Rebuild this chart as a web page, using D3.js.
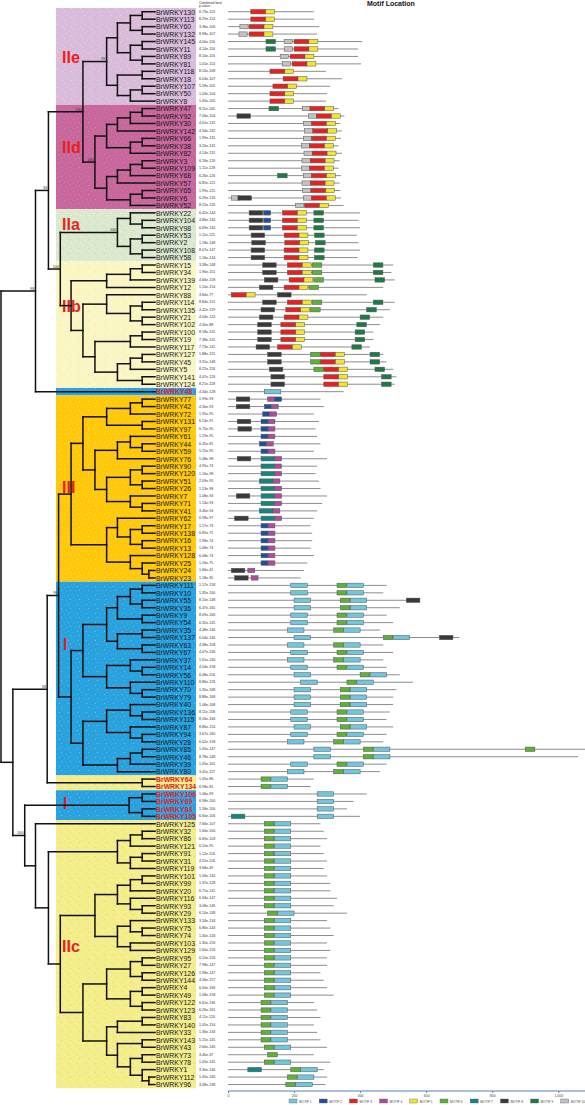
<!DOCTYPE html>
<html><head><meta charset="utf-8">
<script src="https://cdn.jsdelivr.net/npm/d3@7/dist/d3.min.js"></script>
<style>body{margin:0;background:#fff}svg{display:block}text{font-family:"Liberation Sans",Arial,sans-serif}</style>
</head><body>
<svg id="c" width="585" height="1105"></svg>
<script>
// ---------------- DATA ----------------
const genes = ["BrWRKY130","BrWRKY113","BrWRKY60","BrWRKY132","BrWRKY145","BrWRKY11","BrWRKY89","BrWRKY81","BrWRKY118","BrWRKY18","BrWRKY107","BrWRKY50","BrWRKY8",
"BrWRKY47","BrWRKY92","BrWRKY30","BrWRKY142","BrWRKY66","BrWRKY38","BrWRKY82","BrWRKY3","BrWRKY109","BrWRKY68","BrWRKY57","BrWRKY65","BrWRKY6","BrWRKY52",
"BrWRKY22","BrWRKY104","BrWRKY98","BrWRKY53","BrWRKY2","BrWRKY108","BrWRKY58",
"BrWRKY15","BrWRKY34","BrWRKY139","BrWRKY12","BrWRKY88","BrWRKY114","BrWRKY135","BrWRKY21","BrWRKY102","BrWRKY100","BrWRKY19","BrWRKY117","BrWRKY127","BrWRKY45","BrWRKY5","BrWRKY141","BrWRKY124",
"BrWRKY48",
"BrWRKY77","BrWRKY42","BrWRKY72","BrWRKY131","BrWRKY97","BrWRKY61","BrWRKY44","BrWRKY59","BrWRKY76","BrWRKY90","BrWRKY120","BrWRKY51","BrWRKY26","BrWRKY7","BrWRKY71","BrWRKY41","BrWRKY62","BrWRKY17","BrWRKY138","BrWRKY16","BrWRKY13","BrWRKY128","BrWRKY25","BrWRKY24","BrWRKY23",
"BrWRKY111","BrWRKY10","BrWRKY55","BrWRKY36","BrWRKY9","BrWRKY54","BrWRKY35","BrWRKY137","BrWRKY63","BrWRKY67","BrWRKY37","BrWRKY14","BrWRKY56","BrWRKY110","BrWRKY70","BrWRKY79","BrWRKY40","BrWRKY136","BrWRKY115","BrWRKY87","BrWRKY94","BrWRKY28","BrWRKY85","BrWRKY46","BrWRKY39","BrWRKY80",
"BrWRKY64","BrWRKY134",
"BrWRKY106","BrWRKY69","BrWRKY84","BrWRKY105",
"BrWRKY125","BrWRKY32","BrWRKY86","BrWRKY121","BrWRKY91","BrWRKY31","BrWRKY119","BrWRKY101","BrWRKY99","BrWRKY20","BrWRKY116","BrWRKY93","BrWRKY29","BrWRKY133","BrWRKY75","BrWRKY74","BrWRKY103","BrWRKY129","BrWRKY95","BrWRKY27","BrWRKY126","BrWRKY144","BrWRKY4","BrWRKY49","BrWRKY122","BrWRKY123","BrWRKY83","BrWRKY140","BrWRKY33","BrWRKY143","BrWRKY43","BrWRKY73","BrWRKY78","BrWRKY1","BrWRKY112","BrWRKY96"];

const pValues = ["6.73e-113","8.29e-114","3.36e-106","8.98e-107","4.00e-116","4.14e-116","8.10e-116","1.01e-114","8.10e-108","6.03e-107","5.58e-105","1.03e-104","1.05e-105",
"8.11e-105","7.06e-104","4.01e-131","4.34e-132","1.99e-131","3.20e-131","4.14e-131","6.18e-126","1.11e-128","6.26e-126","6.85e-125","1.99e-125","6.26e-126","8.15e-126",
"6.42e-144","4.86e-144","6.69e-144","1.11e-125","1.18e-148","8.07e-147","1.16e-144",
"3.38e-148","1.96e-151","4.66e-158","1.10e-154","3.84e-77","8.84e-151","4.42e-129","4.04e-124","4.30e-88","8.18e-141","7.38e-141","7.73e-141","1.88e-115","3.31e-148","8.22e-118","4.07e-126","8.21e-118",
"4.34e-128",
"1.99e-93","4.30e-93","1.95e-95","6.14e-91","6.75e-90","1.19e-95","6.45e-81","5.15e-95","5.48e-98","4.95e-74","1.16e-98","2.09e-95","1.13e-98","1.08e-94","1.14e-93","3.40e-94","6.98e-97","1.17e-73","6.85e-71","1.98e-74","1.08e-74","6.08e-74","1.16e-75","1.66e-41","1.18e-35",
"1.17e-158","1.35e-160","8.10e-148","6.47e-165","8.09e-166","6.32e-145","4.48e-146","6.04e-146","4.38e-158","4.07e-136","1.61e-130","4.04e-158","6.48e-116","8.86e-118","1.35e-168","8.88e-168","1.08e-168","8.11e-158","8.16e-166","8.86e-154","3.67e-160","6.02e-158","1.05e-147","8.78e-148","1.05e-161","3.41e-117",
"1.05e-86","6.98e-81",
"1.06e-99","6.98e-100","1.58e-100","6.60e-106",
"7.66e-107","1.66e-100","6.69e-103","6.10e-95","1.12e-116","4.55e-116","3.68e-49","1.06e-144","1.37e-128","6.71e-141","6.34e-147","3.08e-146","6.10e-148","3.34e-134","6.86e-144","1.30e-143","1.30e-156","1.60e-156","6.10e-156","7.98e-147","1.98e-147","4.06e-157","6.00e-166","1.08e-158","6.61e-136","6.26e-161","4.11e-120","1.05e-154","1.36e-134","5.15e-145","2.60e-146","3.40e-37","1.05e-145","3.30e-146","1.05e-146","3.38e-138"];

const proteinLength = [260,260,276,270,406,394,394,403,297,345,309,300,297,
335,352,340,345,342,335,345,338,335,342,338,340,342,350,
400,395,400,390,395,400,392,
500,495,505,470,420,505,490,470,460,440,440,430,470,480,500,510,505,
350,
280,290,260,275,265,270,280,260,300,270,265,275,280,300,285,270,260,250,255,255,250,260,240,230,220,
480,470,560,520,480,500,460,700,470,500,470,480,520,560,510,500,500,490,480,500,480,470,1090,1060,480,460,
260,250,
420,380,360,400,
280,290,300,280,290,300,290,300,310,310,330,320,360,300,310,320,300,310,300,300,280,290,300,320,260,270,280,260,270,280,300,260,310,290,300,295];

// motif hits per gene: [motif number, start aa]
const motifHits = [
[[3,69],[5,114]],[[3,69],[5,114]],[[10,36],[3,64],[5,109]],[[10,33],[3,64],[5,109]],[[9,115],[10,170],[3,200],[5,245]],[[9,115],[10,170],[3,200],[5,245]],[[10,158],[3,188],[5,233]],[[10,164],[3,194],[5,239]],[[3,127],[5,172]],[[3,167],[5,212]],[[3,136],[5,181]],[[3,127],[5,172]],[[3,127],[5,172]],
[[9,124],[10,225],[3,248],[5,293]],[[8,27],[10,243],[3,268],[5,313]],[[10,228],[3,253],[5,298]],[[10,232],[3,257],[5,302]],[[10,228],[3,253],[5,298]],[[10,222],[3,247],[5,292]],[[10,230],[3,255],[5,300]],[[10,224],[3,249],[5,294]],[[10,222],[3,247],[5,292]],[[9,150],[10,228],[3,253],[5,298]],[[10,224],[3,249],[5,294]],[[10,226],[3,251],[5,296]],[[10,10],[8,30],[10,228],[3,253],[5,298]],[[10,205],[3,232],[5,277]],
[[8,64],[2,108],[3,165],[5,210],[9,260]],[[8,64],[2,108],[3,165],[5,210],[9,260]],[[8,64],[2,108],[3,165],[5,210],[9,260]],[[8,70],[3,170],[5,215],[9,262]],[[8,72],[3,172],[5,217],[9,265]],[[8,70],[3,170],[5,215],[9,262]],[[8,70],[3,170],[5,215],[9,262]],
[[8,105],[3,180],[5,225],[6,255],[9,440]],[[8,105],[3,180],[5,225],[6,255],[9,440]],[[8,110],[3,185],[5,230],[6,260],[9,445]],[[8,95],[3,170],[5,215],[6,245]],[[3,10],[5,55],[8,150]],[[8,105],[3,180],[5,225],[6,255],[9,440]],[[8,100],[3,175],[5,220],[6,250],[9,420]],[[8,95],[3,170],[5,215],[9,400]],[[8,90],[3,160],[5,205],[9,390]],[[8,90],[3,160],[5,205],[9,385]],[[8,90],[3,160],[5,205],[9,385]],[[8,85],[3,150],[5,195],[9,375]],[[8,120],[6,250],[3,280],[5,325],[9,430]],[[8,120],[6,250],[3,280],[5,325],[9,430]],[[8,125],[6,260],[3,290],[5,335],[9,445]],[[8,130],[3,290],[5,335],[9,465]],[[8,130],[3,290],[5,335],[9,465]],
[[1,110]],
[[8,25],[4,120],[2,141]],[[8,25],[2,110],[4,131]],[[2,105],[4,126]],[[8,28],[2,100],[4,121]],[[8,30],[2,100],[4,121]],[[2,100],[4,121]],[[2,95],[4,116]],[[2,100],[4,121]],[[8,28],[7,100],[4,141]],[[7,100],[4,141]],[[7,100],[4,141]],[[7,95],[4,136]],[[7,100],[4,141]],[[8,25],[7,100],[4,141]],[[7,100],[4,141]],[[7,95],[4,136]],[[8,20],[7,100],[4,141]],[[2,100],[4,121]],[[2,100],[4,121]],[[2,100],[4,121]],[[2,100],[4,121]],[[2,100],[4,121]],[[2,100],[4,121]],[[8,10],[4,60]],[[8,20],[4,70]],
[[1,190],[6,330],[1,360]],[[1,190],[6,330],[1,360]],[[1,200],[6,340],[1,370],[8,540]],[[1,200],[6,340],[1,370]],[[1,190],[6,330],[1,360]],[[1,190],[6,330],[1,360]],[[1,180],[6,320],[1,350]],[[1,200],[6,470],[1,500],[8,640]],[[1,180],[6,320],[1,350]],[[1,190],[6,330],[1,360]],[[1,180],[6,320],[1,350]],[[1,190],[6,330],[1,360]],[[1,200],[6,400],[1,430]],[[1,220],[6,360],[1,390]],[[1,200],[6,340],[1,370]],[[1,200],[6,340],[1,370]],[[1,200],[6,340],[1,370]],[[1,190],[6,330],[1,360]],[[1,190],[6,330],[1,360]],[[1,200],[6,340],[1,370]],[[1,190],[6,330],[1,360]],[[1,180],[6,320],[1,350]],[[1,260],[6,410],[1,440],[6,900]],[[1,260],[6,410],[1,440]],[[1,190],[6,330],[1,360]],[[1,180],[6,320],[1,350]],
[[6,100],[1,130]],[[6,100],[1,130]],
[[1,270]],[[1,270]],[[1,270]],[[7,10],[1,270]],
[[6,110],[1,140]],[[6,110],[1,140]],[[6,110],[1,140]],[[6,110],[1,140]],[[6,110],[1,140]],[[6,110],[1,140]],[[6,110],[1,140]],[[6,110],[1,140]],[[6,110],[1,140]],[[6,110],[1,140]],[[6,110],[1,140]],[[6,110],[1,140]],[[6,120],[1,150]],[[6,110],[1,140]],[[6,110],[1,140]],[[6,110],[1,140]],[[6,110],[1,140]],[[6,110],[1,140]],[[6,110],[1,140]],[[6,110],[1,140]],[[6,110],[1,140]],[[6,110],[1,140]],[[6,110],[1,140]],[[6,110],[1,140]],[[6,100],[1,130]],[[6,100],[1,130]],[[6,100],[1,130]],[[6,100],[1,130]],[[6,100],[1,130]],[[6,100],[1,130]],[[6,110],[1,140]],[[6,120]],[[6,110],[1,140]],[[7,60],[6,190],[1,220]],[[6,180],[1,210]],[[6,175],[1,205]]
];

const motifWidth = [50,21,45,21,27,29,41,41,29,25];
const motifNames = ["MOTIF 1","MOTIF 2","MOTIF 3","MOTIF 4","MOTIF 5","MOTIF 6","MOTIF 7","MOTIF 8","MOTIF 9","MOTIF 10"];
const motifColors = ["#70c7db","#1d4f9c","#e8201e","#b04a9e","#f3e62a","#5cb236","#13857f","#3a3a3a","#1e7a45","#c2c2c2"];
const axisTicks = [0,200,400,600,800,1000];

const groupNames = ["IIe","IId","IIa","IIb","","III","I","","I","IIc"];
const groupFirst = ["BrWRKY130","BrWRKY47","BrWRKY22","BrWRKY15","BrWRKY48","BrWRKY77","BrWRKY111","BrWRKY64","BrWRKY106","BrWRKY125"];
const groupLast  = ["BrWRKY8","BrWRKY52","BrWRKY58","BrWRKY124","BrWRKY48","BrWRKY23","BrWRKY80","BrWRKY134","BrWRKY105","BrWRKY96"];
const groupLabelRow = [6.1,18.2,28.5,39.5,0,63.8,84.9,0,106.2,125.4];
const groupFill = ["#d8bcd9","#c8679b","#dbe8ce","#f9f6c4","#2aa0de","#ffc80c","#29a2de","#f3ed8e","#29a2de","#f3ed8c"];
const groupDot  = ["#eaa6c9","#e79ac0","#b8c4cc","#f0e070","#8fd0f0","#fff0a0","#a5e2ff","#f5c020","#a5e2ff","#f5c020"];
const redGenes = ["BrWRKY48","BrWRKY64","BrWRKY134","BrWRKY106","BrWRKY69","BrWRKY84","BrWRKY105"];

// clades: [first tip, last tip, node height (tips = 0, root = 100), bootstrap if read]
const clades = [
["BrWRKY130","BrWRKY96",100],
["BrWRKY130","BrWRKY48",77.6,"98"],["BrWRKY130","BrWRKY124",69.2,"34"],["BrWRKY130","BrWRKY52",46.8,"100"],
["BrWRKY130","BrWRKY8",31.4,"99"],["BrWRKY130","BrWRKY81",24.4],["BrWRKY130","BrWRKY132",16],["BrWRKY130","BrWRKY113",8.3],["BrWRKY60","BrWRKY132",8.3],["BrWRKY145","BrWRKY81",16],["BrWRKY145","BrWRKY11",8.3],["BrWRKY89","BrWRKY81",8.3],
["BrWRKY118","BrWRKY8",24.4],["BrWRKY118","BrWRKY18",8.3],["BrWRKY107","BrWRKY8",16],["BrWRKY107","BrWRKY50",8.3],
["BrWRKY47","BrWRKY52",39,"100"],["BrWRKY47","BrWRKY82",31.4],["BrWRKY47","BrWRKY142",24.4],["BrWRKY47","BrWRKY30",16],["BrWRKY47","BrWRKY92",8.3],["BrWRKY66","BrWRKY82",16],["BrWRKY66","BrWRKY38",8.3],
["BrWRKY3","BrWRKY52",31.4],["BrWRKY3","BrWRKY57",24.4],["BrWRKY3","BrWRKY68",16],["BrWRKY3","BrWRKY109",8.3],["BrWRKY65","BrWRKY52",16],["BrWRKY65","BrWRKY6",8.3],
["BrWRKY22","BrWRKY124",61.5,"100"],
["BrWRKY22","BrWRKY58",24.4,"100"],["BrWRKY22","BrWRKY98",16],["BrWRKY104","BrWRKY98",8.3],["BrWRKY53","BrWRKY58",16],["BrWRKY53","BrWRKY2",8.3],["BrWRKY108","BrWRKY58",8.3],
["BrWRKY15","BrWRKY124",54.5],["BrWRKY15","BrWRKY12",31.4],["BrWRKY15","BrWRKY139",16],["BrWRKY15","BrWRKY34",8.3],
["BrWRKY88","BrWRKY124",46.8],["BrWRKY88","BrWRKY102",31.4],["BrWRKY114","BrWRKY102",16],["BrWRKY114","BrWRKY135",8.3],["BrWRKY21","BrWRKY102",8.3],
["BrWRKY100","BrWRKY124",39],["BrWRKY100","BrWRKY117",16],["BrWRKY100","BrWRKY19",8.3],["BrWRKY127","BrWRKY124",24.4],["BrWRKY127","BrWRKY5",16],["BrWRKY127","BrWRKY45",8.3],["BrWRKY141","BrWRKY124",8.3],
["BrWRKY77","BrWRKY96",92.3],["BrWRKY77","BrWRKY134",70,"38"],["BrWRKY77","BrWRKY80",62.6,"98"],
["BrWRKY77","BrWRKY23",54.5],["BrWRKY77","BrWRKY41",46.8],["BrWRKY77","BrWRKY97",31.4],["BrWRKY77","BrWRKY72",16],["BrWRKY77","BrWRKY42",8.3],["BrWRKY131","BrWRKY97",8.3],
["BrWRKY61","BrWRKY41",39],["BrWRKY61","BrWRKY76",24.4],["BrWRKY61","BrWRKY59",16],["BrWRKY44","BrWRKY59",8.3],["BrWRKY90","BrWRKY41",31.4],["BrWRKY90","BrWRKY26",16],["BrWRKY90","BrWRKY120",8.3],["BrWRKY51","BrWRKY26",8.3],["BrWRKY7","BrWRKY41",16],["BrWRKY71","BrWRKY41",8.3],
["BrWRKY62","BrWRKY23",31.4],["BrWRKY62","BrWRKY13",24.4],["BrWRKY17","BrWRKY13",16],["BrWRKY17","BrWRKY138",8.3],["BrWRKY16","BrWRKY13",8.3],["BrWRKY128","BrWRKY23",16],["BrWRKY25","BrWRKY23",8.3],["BrWRKY24","BrWRKY23",4],
["BrWRKY111","BrWRKY80",54.5],["BrWRKY111","BrWRKY79",46.8],["BrWRKY111","BrWRKY67",31.4],["BrWRKY111","BrWRKY54",24.4],["BrWRKY111","BrWRKY36",16],["BrWRKY111","BrWRKY10",8.3],["BrWRKY55","BrWRKY36",8.3],["BrWRKY9","BrWRKY54",8.3],["BrWRKY35","BrWRKY67",24.4],["BrWRKY35","BrWRKY137",8.3],["BrWRKY63","BrWRKY67",8.3],
["BrWRKY37","BrWRKY79",31.4],["BrWRKY37","BrWRKY56",16],["BrWRKY14","BrWRKY56",8.3],["BrWRKY110","BrWRKY79",16],["BrWRKY70","BrWRKY79",8.3],
["BrWRKY40","BrWRKY80",46.8],["BrWRKY40","BrWRKY28",31.4],["BrWRKY40","BrWRKY115",16],["BrWRKY136","BrWRKY115",8.3],["BrWRKY87","BrWRKY28",16],["BrWRKY94","BrWRKY28",8.3],["BrWRKY85","BrWRKY80",24.4],["BrWRKY85","BrWRKY39",16],["BrWRKY85","BrWRKY46",8.3],
["BrWRKY64","BrWRKY134",8.3],
["BrWRKY106","BrWRKY96",84.6,"100"],["BrWRKY106","BrWRKY105",16.8],["BrWRKY106","BrWRKY69",8.3],["BrWRKY84","BrWRKY105",8.3],
["BrWRKY125","BrWRKY96",77.6],["BrWRKY32","BrWRKY96",69.2],
["BrWRKY32","BrWRKY119",24.4],["BrWRKY32","BrWRKY121",16],["BrWRKY32","BrWRKY86",8.3],["BrWRKY91","BrWRKY119",16],["BrWRKY91","BrWRKY31",8.3],
["BrWRKY101","BrWRKY96",61.5],["BrWRKY101","BrWRKY129",39],["BrWRKY101","BrWRKY29",24.4],["BrWRKY101","BrWRKY20",16],["BrWRKY101","BrWRKY99",8.3],["BrWRKY116","BrWRKY29",16],["BrWRKY93","BrWRKY29",8.3],
["BrWRKY133","BrWRKY129",24.4],["BrWRKY133","BrWRKY74",16],["BrWRKY75","BrWRKY74",8.3],["BrWRKY103","BrWRKY129",16],
["BrWRKY95","BrWRKY96",46.8],["BrWRKY95","BrWRKY123",31.4],["BrWRKY95","BrWRKY144",16],["BrWRKY95","BrWRKY27",8.3],["BrWRKY126","BrWRKY144",8.3],["BrWRKY4","BrWRKY123",16],["BrWRKY4","BrWRKY49",8.3],["BrWRKY122","BrWRKY123",8.3],
["BrWRKY83","BrWRKY96",31.4],["BrWRKY83","BrWRKY33",24.4],["BrWRKY83","BrWRKY140",8.3],["BrWRKY143","BrWRKY96",24.4],["BrWRKY143","BrWRKY43",8.3],["BrWRKY73","BrWRKY96",16],["BrWRKY73","BrWRKY78",8.3],["BrWRKY1","BrWRKY96",8.3],["BrWRKY112","BrWRKY96",4]
];

// ---------------- DRAW ----------------
const svg = d3.select("#c");
const nRows = genes.length;
const idx = new Map(genes.map((g,i)=>[g,i]));
const rowTop = 8, rowStep = 7.45;
const yRow = d3.scaleLinear().domain([0, nRows - 1]).range([rowTop + rowStep/2, rowTop + rowStep/2 + rowStep*(nRows-1)]);
const xTree = d3.scaleLinear().domain([100, 0]).range([1, 155]);
const xAA = d3.scaleLinear().domain([0, 1000]).range([228, 558.3]);

// build hierarchy from clade ranges
const nodes = clades.map((c,k)=>({id:"n"+k, a:idx.get(c[0]), b:idx.get(c[1]), h:c[2], bs:c[3]}));
const findParent = (a,b,self) => {
  let best=null;
  nodes.forEach(n=>{
    if(n===self || n.a>a || n.b<b || (n.a===a && n.b===b)) return;
    if(!best || (n.b-n.a)<(best.b-best.a)) best=n;
  });
  return best;
};
const table = [];
nodes.forEach(n=>{ const p=findParent(n.a,n.b,n); table.push({id:n.id, parent:p?p.id:null, h:n.h, bs:n.bs}); });
genes.forEach((g,i)=>{ const p=findParent(i,i,null); table.push({id:"t"+i, parent:p.id, h:0, row:i}); });
const root = d3.stratify().id(d=>d.id).parentId(d=>d.parent)(table);
root.eachAfter(n=>{
  if(!n.children){ n.px = xTree(0); n.py = yRow(n.data.row); }
  else { n.children.sort((u,v)=>u.py-v.py); n.px = xTree(n.data.h); n.py = (n.children[0].py + n.children[n.children.length-1].py)/2; }
});

// textures + backgrounds
const defs = svg.append("defs");
groupFill.forEach((c,i)=>{
  const p = defs.append("pattern").attr("id","tex"+i).attr("patternUnits","userSpaceOnUse").attr("width",9).attr("height",9);
  p.append("rect").attr("width",9).attr("height",9).attr("fill",c);
  [[1,2],[5,1],[3,6],[7,5],[8,8]].forEach(([a,b],k)=>p.append("rect").attr("x",a).attr("y",b).attr("width",0.8).attr("height",0.8)
    .attr("fill",k%2?groupDot[i]:d3.color(c).brighter(0.5)).attr("opacity",0.8));
});
const gBg = svg.append("g");
groupFirst.forEach((f,i)=>{
  const a = idx.get(f), b = idx.get(groupLast[i]);
  gBg.append("rect").attr("x",56).attr("width",140)
    .attr("y", yRow(a)-rowStep/2).attr("height", yRow(b)-yRow(a)+rowStep)
    .attr("fill","url(#tex"+i+")");
});
groupNames.forEach((n,i)=>{
  if(!n) return;
  gBg.append("text").attr("x", n==="I"?63:62).attr("y", yRow(groupLabelRow[i])+6)
    .attr("font-size",16).attr("font-weight","bold").attr("fill","#e8201e").text(n);
});

// tree
const gTree = svg.append("g").attr("fill","none").attr("stroke","#111").attr("stroke-width",1.5).attr("stroke-linecap","square");
root.descendants().filter(n=>n.children).forEach(n=>{
  const ys = n.children.map(c=>c.py);
  gTree.append("path").attr("d",`M${n.px},${d3.min(ys)}V${d3.max(ys)}`);
  n.children.forEach(c=>gTree.append("path").attr("d",`M${n.px},${c.py}H${c.px}`));
});
const gBs = svg.append("g");
root.descendants().filter(n=>n.data.bs).forEach(n=>{
  gBs.append("text").attr("x",n.px-1.2).attr("y",n.py-1.2).attr("text-anchor","end")
    .attr("font-size",3.8).attr("fill","#333").text(n.data.bs);
});

// labels (slightly condensed, as in the original figure)
const gLab = svg.append("g");
genes.forEach((g,i)=>{
  const red = redGenes.includes(g);
  gLab.append("text").attr("transform",`translate(156,${yRow(i)+2.8}) scale(0.86,1)`).attr("font-size",8)
    .attr("font-weight", red?"bold":"normal").attr("fill", red?"#e8201e":"#16161f").text(g);
  gLab.append("text").attr("x",199).attr("y",yRow(i)+1).attr("font-size",3.6).attr("fill","#333").text(pValues[i]);
});
svg.append("text").attr("x",199).attr("y",3.5).attr("font-size",3.4).attr("fill","#333").text("Combined best");
svg.append("text").attr("x",199).attr("y",7).attr("font-size",3.4).attr("fill","#333").text("p-value");
svg.append("text").attr("x",367).attr("y",5.5).attr("font-size",7).attr("font-weight","bold").attr("fill","#111").text("Motif Location");

// motif tracks
const gM = svg.append("g");
genes.forEach((g,i)=>{
  const y = yRow(i);
  gM.append("line").attr("x1",xAA(0)).attr("x2",xAA(proteinLength[i])).attr("y1",y).attr("y2",y).attr("stroke","#8d8d8d").attr("stroke-width",1);
  motifHits[i].forEach(([m,s])=>{
    gM.append("rect").attr("x",xAA(s)).attr("y",y-2.2).attr("width",xAA(s+motifWidth[m-1])-xAA(s)).attr("height",4.4)
      .attr("fill",motifColors[m-1]).attr("stroke","#555").attr("stroke-width",0.5);
  });
});

// axis
const ax = svg.append("g").attr("transform","translate(0,1091)").call(d3.axisBottom(xAA).tickValues(axisTicks).tickSize(2).tickSizeOuter(0));
ax.select(".domain").attr("stroke","#5b7fc0").attr("d",`M${xAA(0)},0H585`);
ax.selectAll(".tick line").attr("stroke","#5b7fc0");
ax.selectAll(".tick text").attr("font-size",3.5).attr("fill","#444").attr("dy","0.2em");

// legend
const gL = svg.append("g");
motifNames.forEach((n,k)=>{
  const x = 289 + k*30.2;
  gL.append("rect").attr("x",x).attr("y",1099).attr("width",8).attr("height",4).attr("fill",motifColors[k]).attr("stroke","#666").attr("stroke-width",0.4);
  gL.append("text").attr("x",x+10).attr("y",1102.5).attr("font-size",3.2).attr("fill","#444").text(n);
});
</script>
</body></html>
